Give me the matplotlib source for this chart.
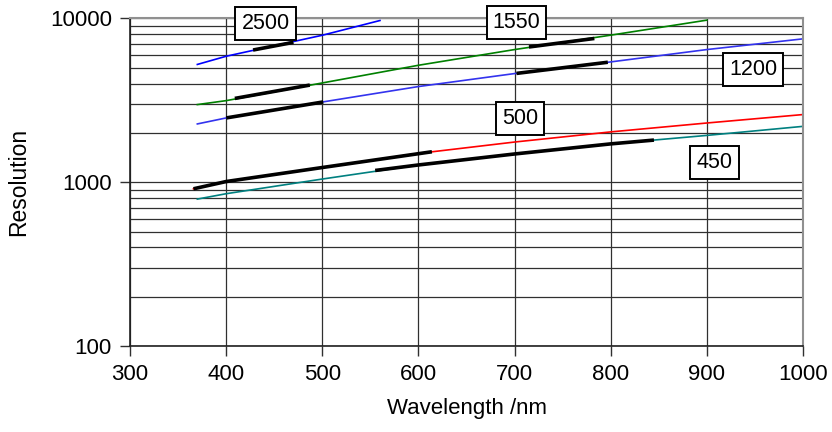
import matplotlib
matplotlib.use("Agg")
import matplotlib.pyplot as plt
from matplotlib.ticker import FixedLocator, NullFormatter

plt.rcParams['font.family'] = ['Liberation Sans', 'DejaVu Sans']

# colored curves (wavelength nm, resolution)
wl_2500 = [370, 400, 500, 560]
r_2500 = [5240, 5880, 7900, 9720]
wl_1550 = [370, 400, 500, 600, 700, 800, 900]
r_1550 = [2980, 3150, 4040, 5180, 6460, 7910, 9770]
wl_1200 = [370, 400, 500, 600, 700, 800, 900, 1000]
r_1200 = [2270, 2470, 3090, 3840, 4610, 5430, 6460, 7510]
wl_500 = [366, 400, 500, 600, 700, 800, 900, 1000]
r_500 = [912, 1010, 1230, 1500, 1760, 2030, 2300, 2590]
wl_450 = [370, 400, 500, 600, 700, 800, 900, 1000]
r_450 = [789, 851, 1046, 1275, 1488, 1715, 1932, 2194]

# black (used range) segments
seg_2500_wl = [428, 470]
seg_2500_r = [6420, 7150]
seg_1550a_wl = [409, 487]
seg_1550a_r = [3250, 3920]
seg_1550b_wl = [715, 783]
seg_1550b_r = [6700, 7550]
seg_1200a_wl = [400, 501]
seg_1200a_r = [2470, 3094]
seg_1200b_wl = [702, 797]
seg_1200b_r = [4620, 5405]
seg_500_wl = [366, 400, 500, 614]
seg_500_r = [912, 1010, 1230, 1535]
seg_450_wl = [555, 600, 700, 800, 845]
seg_450_r = [1180, 1275, 1488, 1715, 1809]

# box labels
label_text = ['2500', '1550', '1200', '500', '450']
label_wl = [441, 702, 948, 706, 908]
label_r = [9280, 9490, 4880, 2456, 1316]

fig = plt.figure(figsize=(8.32, 4.32), dpi=100)
ax = fig.add_axes([0.1563, 0.1991, 0.8088, 0.7581])

ax.set_xlim(300, 1000)
ax.set_yscale('log')
ax.set_ylim(100, 10000)

# grid
ax.set_xticks(range(300, 1001, 100))
ax.yaxis.set_major_locator(FixedLocator([100, 1000, 10000]))
ax.set_yticklabels(['100', '1000', '10000'])
minor = [m * d for d in (100, 1000) for m in range(2, 10)]
ax.yaxis.set_minor_locator(FixedLocator(minor))
ax.yaxis.set_minor_formatter(NullFormatter())
ax.grid(True, which='major', axis='both', color='#303030', lw=0.9)
ax.grid(True, which='minor', axis='y', color='#303030', lw=0.9)
ax.tick_params(axis='y', which='minor', length=0)
ax.tick_params(which='major', direction='out', length=7, width=1, color='#303030',
               labelsize=16, pad=6)
ax.set_axisbelow(True)

for s in ['top', 'right']:
    ax.spines[s].set_color('#909090')
    ax.spines[s].set_linewidth(1.5)
for s in ['left', 'bottom']:
    ax.spines[s].set_color('#202020')
    ax.spines[s].set_linewidth(1.2)

ax.plot(wl_2500, r_2500, color='#0000ff', lw=1.2)
ax.plot(wl_1550, r_1550, color='#008000', lw=1.2)
ax.plot(wl_1200, r_1200, color='#3333ee', lw=1.2)
ax.plot(wl_500, r_500, color='#ff0000', lw=1.2)
ax.plot(wl_450, r_450, color='#008080', lw=1.2)

for w, r in [(seg_2500_wl, seg_2500_r), (seg_1550a_wl, seg_1550a_r),
             (seg_1550b_wl, seg_1550b_r), (seg_1200a_wl, seg_1200a_r),
             (seg_1200b_wl, seg_1200b_r), (seg_500_wl, seg_500_r),
             (seg_450_wl, seg_450_r)]:
    ax.plot(w, r, color='black', lw=2.6, solid_capstyle='butt')

for t, x, y in zip(label_text, label_wl, label_r):
    ax.text(x, y, t, fontsize=15.5, ha='center', va='center', clip_on=False,
            bbox=dict(boxstyle='square,pad=0.28', fc='white', ec='black', lw=1.4))

ax.set_xlabel('Wavelength /nm', fontsize=16, labelpad=9)
ax.set_ylabel('Resolution', fontsize=16.5, labelpad=14)

fig.savefig('out.png', dpi=100)
